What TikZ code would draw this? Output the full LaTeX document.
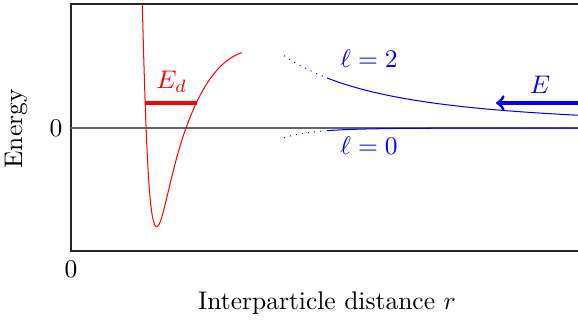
\documentclass[tikz,border=0pt]{standalone}
\begin{document}
\begin{tikzpicture}[x=0.392pt,y=-0.392pt,
  frame/.style={black!85, line width=0.4pt},
  zeroline/.style={black!60, line width=0.4pt},
  redcurve/.style={red, line width=0.4pt},
  bluecurve/.style={blue, line width=0.4pt},
  lbl/.style={inner sep=0pt}]
\useasboundingbox (0,0) rectangle (578,324);
% frame
\draw[frame] (578,4) -- (71,4) -- (71,251) -- (578,251);
\draw[zeroline] (71,128) -- (578,128);
% axis labels
\node[lbl] (zeroy) at (56,128) {$0$};
\node[lbl] (zerox) at (71,269) {$0$};
\node[lbl, rotate=90] (ylab) at (16,129) {Energy};
\node[lbl] (xlab) at (327,303) {Interparticle distance $r$};
% red potential
\draw[redcurve] (142.3,4) .. controls (146.5,170) and (150,226.7) .. (156.7,226.7)
  .. controls (163,226.7) and (170,172) .. (186,128)
  .. controls (202,84) and (220,60) .. (241.7,52.7);
\coordinate (edl) at (144.7,103);
\coordinate (edr) at (196.6,103);
\draw[red, line width=1.2pt] (edl) -- (edr);
\node[lbl, red] (edlab) at (171.7,82) {$E_d$};
% blue curves
\draw[bluecurve, dotted, domain=284:324, samples=12] plot (\x, {128 - 72.3*(213/(\x-71))^2});
\draw[bluecurve, domain=327:578, samples=80] plot (\x, {128 - 72.3*(213/(\x-71))^2});
\draw[bluecurve, dotted, domain=284:324, samples=12] plot (\x, {128 + 9.7*(213/(\x-71))^7});
\draw[bluecurve, domain=327:578, samples=80] plot (\x, {128 + 9.7*(213/(\x-71))^7});
\node[lbl, blue] (l2) at (369,58.7) {$\ell=2$};
\node[lbl, blue] (l0) at (369,146) {$\ell=0$};
% energy arrow
\coordinate (ea) at (578,103);
\coordinate (eb) at (496,103);
\draw[blue, line width=1.2pt, ->] (ea) -- (eb);
\node[lbl, blue] (elab) at (540,85) {$E$};
\end{tikzpicture}
\end{document}
